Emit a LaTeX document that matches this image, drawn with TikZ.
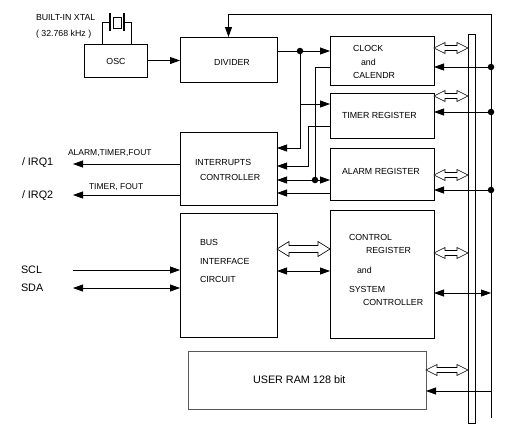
\documentclass[tikz,border=0pt]{standalone}
\usepackage{fontspec}
\setmainfont{Liberation Sans}
\usetikzlibrary{arrows.meta,calc}
\tikzset{
 box/.style={draw, line width=0.8pt, inner sep=0pt, outer sep=0pt},
 txt/.style={inner sep=0pt, outer sep=0pt, anchor=west, font=\fontsize{8.8}{10}\selectfont},
 bigtxt/.style={txt, font=\fontsize{10.8}{12}\selectfont},
 smalltxt/.style={txt, font=\fontsize{8.5}{10}\selectfont},
 line/.style={line width=0.8pt},
 arr/.style={line, -{Triangle[length=10pt,width=7pt]}},
 darr/.style={line, {Triangle[length=10pt,width=7pt]}-{Triangle[length=10pt,width=7pt]}},
 dot/.style={circle, fill, inner sep=0pt, minimum size=6.5pt},
 hollow/.style={draw, line width=0.6pt, fill=white, line join=miter},
}
\newcommand\hollowarr[5]{\draw[hollow] (#1) -- ($(#1)+(#3,#4)$) -- ($(#1)+(#3,#5)$) -- ($(#2)+(-#3,#5)$) -- ($(#2)+(-#3,#4)$) -- (#2) -- ($(#2)+(-#3,-#4)$) -- ($(#2)+(-#3,-#5)$) -- ($(#1)+(#3,-#5)$) -- ($(#1)+(#3,-#4)$) -- cycle;}
\begin{document}
\begin{tikzpicture}[x=1pt,y=-1pt]
\useasboundingbox (0,0) rectangle (511,429);
% boxes
\node[box, minimum width=63, minimum height=33] (osc) at (115.5,60.5) {};
\node[box, minimum width=97, minimum height=45] (divider) at (228.5,59.5) {};
\node[box, minimum width=104, minimum height=49] (clock) at (382,60.5) {};
\node[box, minimum width=104, minimum height=45] (timer) at (382,115.5) {};
\node[box, minimum width=104, minimum height=52] (alarm) at (382,174) {};
\node[box, minimum width=104, minimum height=128] (control) at (382,274) {};
\node[box, minimum width=97, minimum height=124] (bus) at (228.5,275) {};
\node[box, minimum width=97, minimum height=73] (intr) at (228.5,168.5) {};
\node[box, draw=black!65, minimum width=238, minimum height=58] (ram) at (307,380) {};
\node[box, fill=white, minimum width=7, minimum height=389] (bar) at (471.5,228.5) {};
% texts
\node[txt] (t1) at (36,18) {BUILT-IN XTAL};
\node[txt] (t2) at (36,34) {( 32.768 kHz )};
\node[txt, anchor=center] (t3) at (116,61) {OSC};
\node[txt, anchor=center] (t4) at (232,62) {DIVIDER};
\node[txt] (t5) at (353,48) {CLOCK};
\node[txt] (t6) at (361,62) {and};
\node[txt] (t7) at (353,75) {CALENDR};
\node[txt] (t8) at (342,115) {TIMER REGISTER};
\node[txt] (t9) at (342,171) {ALARM REGISTER};
\node[txt] (t10) at (195,162) {INTERRUPTS};
\node[txt] (t11) at (200,177) {CONTROLLER};
\node[txt] (t12) at (200,242) {BUS};
\node[txt] (t13) at (200,261) {INTERFACE};
\node[txt] (t14) at (200,279) {CIRCUIT};
\node[txt] (t15) at (349,237) {CONTROL};
\node[txt] (t16) at (366,250) {REGISTER};
\node[txt] (t17) at (357,270) {and};
\node[txt] (t18) at (349,289) {SYSTEM};
\node[txt] (t19) at (363,302) {CONTROLLER};
\node[bigtxt] (t20) at (253,380) {USER RAM 128 bit};
\node[smalltxt] (t21) at (68,153) {ALARM,TIMER,FOUT};
\node[smalltxt] (t22) at (89,187) {TIMER, FOUT};
\node[bigtxt] (t23) at (22,163) {/ IRQ1};
\node[bigtxt] (t24) at (22,196) {/ IRQ2};
\node[bigtxt] (t25) at (21,270) {SCL};
\node[bigtxt] (t26) at (21,288) {SDA};
% crystal
\draw[line width=2pt] (110,13) -- (110,31);
\draw[line width=2pt] (124,13) -- (124,31);
\draw[line] (113,17) rectangle (121,28);
\draw[line] (110,22) -| (osc.north -| 102,0);
\draw[line] (124,22) -| (osc.north -| 131,0);
% coordinates
\coordinate (rtop) at (491,14);
\coordinate (rbot) at (491,418);
\coordinate (j1) at (300,51);
\coordinate (j2) at (315,180);
\coordinate (d1) at (491,67);
\coordinate (d2) at (491,112);
\coordinate (d3) at (491,190);
\coordinate (irq1) at (73,164);
\coordinate (irq2) at (73,195);
\coordinate (scl) at (73,270);
\coordinate (sda) at (73,288);
% feedback and right bus line
\draw[arr] (rbot) -- (rtop) -- (divider.north |- rtop) -- (divider.north);
% osc -> divider
\draw[arr] (osc.east) -- (divider.west |- osc.east);
% divider outputs
\draw[arr] (divider.east |- j1) -- (clock.west |- j1);
\draw[arr] (j1) |- (intr.east |- 0,148);
\draw[arr] (300,104) -- (timer.west |- 0,104);
\draw[line] (clock.west |- 0,67) -| (j2);
\draw[arr] (j2) -- (intr.east |- j2);
\draw[arr] (j2) -- (alarm.west |- j2);
\draw[arr] (timer.west |- 0,126) -| (308,166) -- (intr.east |- 0,166);
\draw[arr] (alarm.west |- 0,193) -- (intr.east |- 0,193);
\node[dot] (dj1) at (j1) {};
\node[dot] (dj2) at (j2) {};
% interrupts outputs
\draw[arr] (intr.west |- irq1) -- (irq1);
\draw[arr] (intr.west |- irq2) -- (irq2);
% serial
\draw[arr] (scl) -- (bus.west |- scl);
\draw[darr] (sda) -- (bus.west |- sda);
% bus <-> control
\draw[darr] (bus.east |- 0,271) -- (control.west |- 0,271);
\hollowarr{bus.east |- 0,249}{control.west |- 0,249}{12}{7.5}{3.5}
% right side
\draw[arr] (d1) -- (clock.east |- d1);
\draw[arr] (d2) -- (timer.east |- d2);
\draw[arr] (d3) -- (alarm.east |- d3);
\draw[darr] (control.east |- 0,293) -- (rbot |- 0,293);
\draw[arr] (rbot |- 0,391) -- (ram.east |- 0,391);
\node[dot] (dd1) at (d1) {};
\node[dot] (dd2) at (d2) {};
\node[dot] (dd3) at (d3) {};
\hollowarr{clock.east |- 0,48}{bar.west |- 0,48}{11}{5.5}{2.5}
\hollowarr{timer.east |- 0,96}{bar.west |- 0,96}{11}{5.5}{2.5}
\hollowarr{alarm.east |- 0,175}{bar.west |- 0,175}{11}{5.5}{2.5}
\hollowarr{control.east |- 0,253}{bar.west |- 0,253}{11}{5.5}{2.5}
\hollowarr{ram.east |- 0,370}{bar.west |- 0,370}{11}{5.5}{2.5}
\end{tikzpicture}
\end{document}
